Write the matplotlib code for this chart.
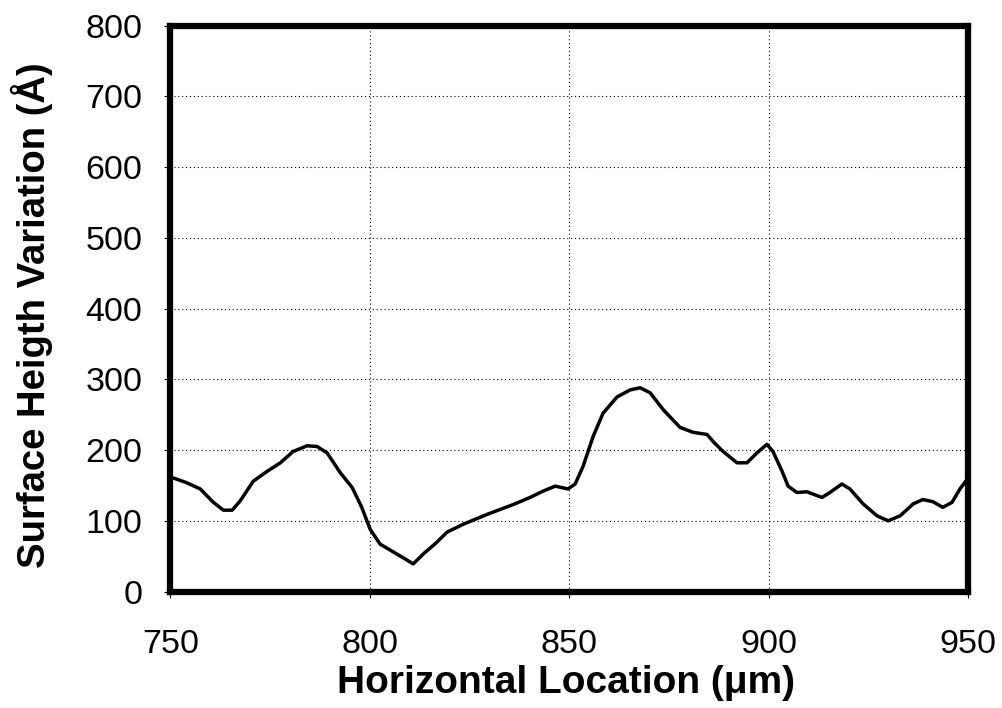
import matplotlib.pyplot as plt

# profile
location = [750.5, 754, 757.5, 760.8, 763.3, 765.5, 767.5, 770.8, 774.3, 777.6,
            780.8, 784.3, 786.8, 789.3, 792.6, 795.6, 798, 800.1, 802.6, 805.9,
            808.9, 810.9, 813.4, 816.5, 819.4, 823.4, 829.4, 836, 840.2, 843.5,
            846.5, 849.7, 851.5, 853.5, 856, 858.5, 862, 865.3, 867.8, 870.3,
            873.6, 877.8, 881.1, 884.6, 886.1, 888.6, 892.1, 894.6, 897.1, 899.6,
            901.1, 903.4, 904.9, 907.1, 909.6, 913.4, 915.4, 918.4, 920.4, 923.7,
            927.2, 930, 933, 936.3, 938.7, 941.2, 943.7, 946, 948, 950]
height = [161, 154, 145, 126, 115, 115, 128, 156, 170, 182,
          198, 206, 205, 196, 168, 147, 119, 88, 67, 56,
          46, 39, 53, 68, 84, 95, 109, 123, 133, 142,
          149, 145, 152, 177, 219, 252, 275, 285, 288, 281,
          257, 232, 225, 222, 212, 198, 182, 182, 196, 208,
          198, 170, 149, 140, 141, 133, 140, 152, 145, 124,
          107, 100, 107, 124, 130, 127, 119, 126, 145, 160]

x_ticks = [750, 800, 850, 900, 950]
y_ticks = [0, 100, 200, 300, 400, 500, 600, 700, 800]

plt.rcParams['font.family'] = ['Liberation Sans', 'DejaVu Sans']

fig = plt.figure(figsize=(10.02, 7.08), dpi=100)
ax = fig.add_axes([0.170, 0.1645, 0.796, 0.7994])
ax.plot(location, height, c='black', lw=2.5)

# chart formatting
ax.set_xlim(750, 950)
ax.set_ylim(0, 800)
ax.set_xticks(x_ticks)
ax.set_yticks(y_ticks)
ax.grid(True, color='black', linestyle=(0, (1, 2.5)), linewidth=0.8)
for side in ax.spines.values():
    side.set_linewidth(4.5)
ax.tick_params(axis='both', which='major', labelsize=24.5, length=4, width=0.8,
               direction='out')
ax.tick_params(axis='x', pad=23)
ax.tick_params(axis='y', pad=16)
ax.set_xlabel('Horizontal Location (\u03bcm)', fontsize=28, fontweight='bold')
ax.set_ylabel('Surface Heigth Variation (\u00c5)', fontsize=27.5, fontweight='bold')
ax.xaxis.set_label_coords(0.496, -0.130)
ax.yaxis.set_label_coords(-0.147, 0.4885)

fig.savefig('out.png', dpi=100)
